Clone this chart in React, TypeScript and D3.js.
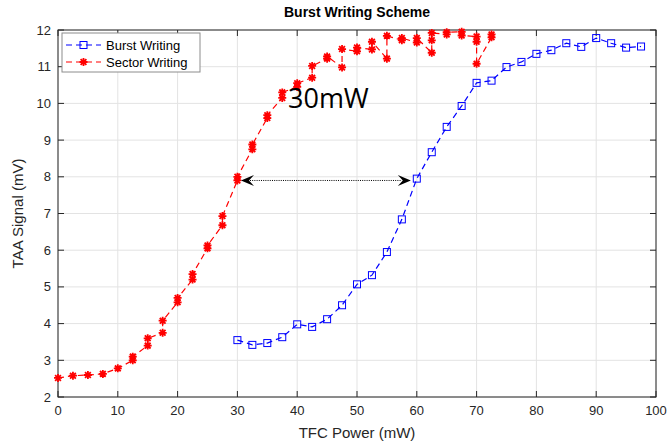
import React, { useEffect } from "react";
import * as d3 from "d3";

// Burst writing: one reading per TFC power step
const burstX = [30, 32.5, 35, 37.5, 40, 42.5, 45, 47.5, 50, 52.5, 55, 57.5, 60, 62.5, 65, 67.5, 70, 72.5, 75, 77.5, 80, 82.5, 85, 87.5, 90, 92.5, 95, 97.5];
const burstY = [3.55, 3.42, 3.47, 3.63, 3.98, 3.91, 4.12, 4.5, 5.07, 5.32, 5.95, 6.84, 7.95, 8.67, 9.36, 9.93, 10.56, 10.62, 10.99, 11.13, 11.35, 11.45, 11.64, 11.54, 11.78, 11.64, 11.52, 11.55];

// Sector writing: several readings per power step
const sectorX = [0, 2.5, 5, 7.5, 10, 12.5, 15, 17.5, 20, 22.5, 25, 27.5, 30, 32.5, 35, 37.5, 40, 42.5, 45, 47.5, 50, 52.5, 55, 57.5, 60, 62.5, 65, 67.5, 70, 72.5];
const sectorY = [
  [2.52], [2.58], [2.6], [2.63], [2.78], [3.0, 3.1], [3.4, 3.6], [3.75, 4.08], [4.58, 4.7], [5.2, 5.35],
  [6.05, 6.13], [6.68, 6.93], [7.9, 8.0], [8.75, 8.88], [9.6, 9.68], [10.15, 10.3], [10.45, 10.55], [10.7, 11.02],
  [11.22, 11.28], [10.98, 11.48], [11.42, 11.52], [11.47, 11.68], [11.22, 11.84], [11.72, 11.78], [11.66, 11.78],
  [11.38, 11.72, 11.92], [11.88, 11.94], [11.95, 11.85], [11.82, 11.68, 11.08], [11.8, 11.88],
];

const xTicks = [0, 10, 20, 30, 40, 50, 60, 70, 80, 90, 100];
const yTicks = [2, 3, 4, 5, 6, 7, 8, 9, 10, 11, 12];
const arrowFrom = [30.6, 7.9];
const arrowTo = [59.0, 7.9];

const W = 668, H = 444;
const m = { left: 58, right: 12, top: 30, bottom: 47 };
const font = "'Liberation Sans', Arial, sans-serif";
const axisColor = "#262626";

const App = () => {
  useEffect(() => {
    document.body.style.margin = "0";
  }, []);

  const x = d3.scaleLinear().domain([0, 100]).range([m.left, W - m.right]);
  const y = d3.scaleLinear().domain([2, 12]).range([H - m.bottom, m.top]);

  const sectorPts: [number, number][] = [];
  sectorX.forEach((v, i) => sectorY[i].forEach((s) => sectorPts.push([v, s])));
  const burstPts: [number, number][] = burstX.map((v, i) => [v, burstY[i]]);

  const line = d3.line<[number, number]>().x((d) => x(d[0])).y((d) => y(d[1]));

  const star = (cx: number, cy: number, key: string) => {
    const r = 4;
    const d = r * 0.72;
    return (
      <path
        key={key}
        d={`M${cx - r},${cy}H${cx + r}M${cx},${cy - r}V${cy + r}M${cx - d},${cy - d}L${cx + d},${cy + d}M${cx - d},${cy + d}L${cx + d},${cy - d}`}
        stroke="#ff0000"
        strokeWidth={1.8}
      />
    );
  };
  const square = (cx: number, cy: number, key: string) => (
    <rect key={key} x={cx - 3.5} y={cy - 3.5} width={7} height={7} fill="none" stroke="#0000ff" strokeWidth={1} />
  );

  const ax0 = x(arrowFrom[0]), ax1 = x(arrowTo[0]), ay = y(arrowFrom[1]);
  const head = (tipX: number, dir: number) =>
    `M${tipX},${ay}L${tipX + dir * 13},${ay - 5.5}L${tipX + dir * 8},${ay}L${tipX + dir * 13},${ay + 5.5}Z`;

  return (
    <svg width={W} height={H} style={{ display: "block", background: "#fff" }} fontFamily={font}>
      {/* grid */}
      {xTicks.map((t) => (
        <line key={"gx" + t} x1={x(t)} x2={x(t)} y1={y(2)} y2={y(12)} stroke="#e3e3e3" strokeWidth={1} />
      ))}
      {yTicks.map((t) => (
        <line key={"gy" + t} x1={x(0)} x2={x(100)} y1={y(t)} y2={y(t)} stroke="#e3e3e3" strokeWidth={1} />
      ))}

      {/* axes box */}
      <rect x={x(0)} y={y(12)} width={x(100) - x(0)} height={y(2) - y(12)} fill="none" stroke={axisColor} strokeWidth={1} />
      {xTicks.map((t) => (
        <g key={"tx" + t}>
          <line x1={x(t)} x2={x(t)} y1={y(2)} y2={y(2) - 6} stroke={axisColor} />
          <line x1={x(t)} x2={x(t)} y1={y(12)} y2={y(12) + 6} stroke={axisColor} />
          <text x={x(t)} y={y(2) + 18} textAnchor="middle" fontSize={13} fill={axisColor}>{t}</text>
        </g>
      ))}
      {yTicks.map((t) => (
        <g key={"ty" + t}>
          <line x1={x(0)} x2={x(0) + 6} y1={y(t)} y2={y(t)} stroke={axisColor} />
          <line x1={x(100)} x2={x(100) - 6} y1={y(t)} y2={y(t)} stroke={axisColor} />
          <text x={x(0) - 7} y={y(t) + 4.5} textAnchor="end" fontSize={13} fill={axisColor}>{t}</text>
        </g>
      ))}

      <text x={(x(0) + x(100)) / 2} y={17} textAnchor="middle" fontSize={14} fontWeight="bold" fill="#000">Burst Writing Scheme</text>
      <text x={(x(0) + x(100)) / 2} y={438} textAnchor="middle" fontSize={15} fill={axisColor}>TFC Power (mW)</text>
      <text transform={`translate(23,${(y(2) + y(12)) / 2}) rotate(-90)`} textAnchor="middle" fontSize={15} fill={axisColor}>TAA Signal (mV)</text>

      {/* series */}
      <path d={line(sectorPts) || ""} fill="none" stroke="#ff0000" strokeWidth={1.2} strokeDasharray="6,4" />
      {sectorPts.map((d, i) => star(x(d[0]), y(d[1]), "s" + i))}
      <path d={line(burstPts) || ""} fill="none" stroke="#0000ff" strokeWidth={1.2} strokeDasharray="6,4" />
      {burstPts.map((d, i) => square(x(d[0]), y(d[1]), "b" + i))}

      {/* annotation */}
      <line x1={ax0 + 9} x2={ax1 - 9} y1={ay} y2={ay} stroke="#000" strokeWidth={1} strokeDasharray="1,1.2" />
      <path d={head(ax0, 1)} fill="#000" />
      <path d={head(ax1, -1)} fill="#000" />
      <text x={288} y={108} fontSize={27} fill="#000" fontFamily="'Open Sans', sans-serif">30mW</text>

      {/* legend */}
      <rect x={62} y={33} width={138} height={39} fill="#fff" stroke="#8c8c8c" strokeWidth={1} />
      <line x1={66} x2={101} y1={45} y2={45} stroke="#0000ff" strokeWidth={1.2} strokeDasharray="6,4" />
      {square(83.5, 45, "lb")}
      <text x={106} y={49.5} fontSize={13} fill="#000">Burst Writing</text>
      <line x1={66} x2={101} y1={62} y2={62} stroke="#ff0000" strokeWidth={1.2} strokeDasharray="6,4" />
      {star(83.5, 62, "ls")}
      <text x={106} y={66.5} fontSize={13} fill="#000">Sector Writing</text>
    </svg>
  );
};

export default App;
